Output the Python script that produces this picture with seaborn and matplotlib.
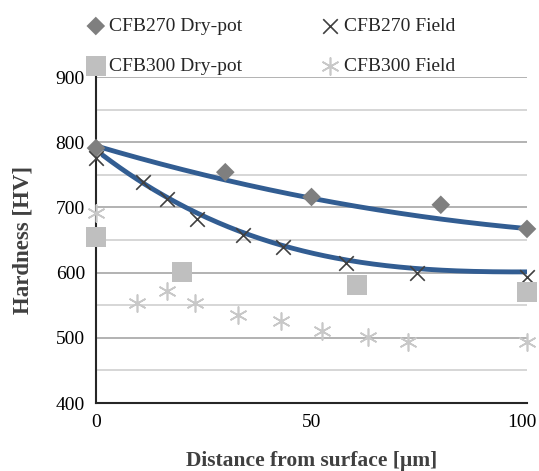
import numpy as np
import matplotlib
matplotlib.use("Agg")
import matplotlib.pyplot as plt
import matplotlib.transforms as mtransforms
import seaborn as sns
from matplotlib.ticker import MultipleLocator

# CFB270 dry-pot (diamonds)
x_270_dry = [0, 30, 50, 80, 100]
y_270_dry = [791, 754, 716, 704, 667]
# CFB270 field (x markers)
x_270_field = [0, 11, 16.5, 23.5, 34, 43.5, 58, 74.5, 100]
y_270_field = [776, 739, 713, 682, 658, 639, 615, 600, 594]
# CFB300 dry-pot (squares)
x_300_dry = [0, 20, 60.5, 100]
y_300_dry = [655, 601, 581, 570]
# CFB300 field (asterisks)
x_300_field = [0, 9.5, 16.5, 23, 33, 43, 52.5, 63, 72.5, 100]
y_300_field = [691, 553, 572, 553, 535, 526, 510, 501, 494, 494]

# trend lines
trend_dry_x = [0, 29.4, 48, 79.6, 100]
trend_dry_y = [794, 745, 714, 684, 667]
trend_field_x = [1.6, 21.8, 37.3, 47.2, 58.8, 74.3, 100]
trend_field_y = [780, 696, 655, 635, 617, 607, 601]

sns.set_style("white")
plt.rcParams['font.family'] = ['Liberation Serif', 'DejaVu Serif']

fig = plt.figure(figsize=(5.39, 4.71), dpi=100)
ax = fig.add_axes([96/539, 1-403/471, 431/539, 326/471])

ax.yaxis.set_major_locator(MultipleLocator(100))
ax.yaxis.set_minor_locator(MultipleLocator(50))
ax.grid(True, which='major', axis='y', color='#a6a6a6', lw=1.2)
ax.grid(True, which='minor', axis='y', color='#d0d0d0', lw=1.2)
ax.set_axisbelow(True)

for tx, ty in [(trend_dry_x, trend_dry_y), (trend_field_x, trend_field_y)]:
    c = np.polyfit(tx, ty, 3)
    xf = np.linspace(tx[0], tx[-1], 200)
    sns.lineplot(x=xf, y=np.polyval(c, xf), color='#325d92', lw=3.5, ax=ax, zorder=3)

sns.scatterplot(x=x_270_dry, y=y_270_dry, marker='D', s=90, color='#7f7f7f',
                edgecolor='none', ax=ax, zorder=4, clip_on=False, label='CFB270 Dry-pot')
sns.scatterplot(x=x_270_field, y=y_270_field, marker='x', s=110, color='#404040',
                linewidth=1.2, ax=ax, zorder=4, clip_on=False, label='CFB270 Field')
sns.scatterplot(x=x_300_dry, y=y_300_dry, marker='s', s=200, color='#bfbfbf',
                edgecolor='none', ax=ax, zorder=4, clip_on=False, label='CFB300 Dry-pot')
sns.scatterplot(x=x_300_field, y=y_300_field, marker=(6, 2, 0), s=150, color='#c8c8c8',
                linewidth=1.2, ax=ax, zorder=4, clip_on=False, label='CFB300 Field')

ax.set_xlim(0, 100)
ax.set_ylim(400, 900)
ax.set_xticks([0, 50, 100])
for s in ['top', 'right']:
    ax.spines[s].set_visible(False)
for s in ['left', 'bottom']:
    ax.spines[s].set_color('#262626')
    ax.spines[s].set_linewidth(1.5)
ax.tick_params(axis='both', labelsize=14, length=0, pad=8, colors='#000000')
fig.canvas.draw()
last = ax.get_xticklabels()[-1]
last.set_transform(last.get_transform() + mtransforms.ScaledTranslation(-5/100, 0, fig.dpi_scale_trans))

ax.set_xlabel('Distance from surface [µm]', fontsize=15.5, fontweight='bold', color='#404040', labelpad=14)
ax.set_ylabel('Hardness [HV]', fontsize=16.5, fontweight='bold', color='#404040', labelpad=16)

h, l = ax.get_legend_handles_labels()
ax.get_legend().remove()
order = [0, 2, 1, 3]
fig.legend([h[i] for i in order], [l[i] for i in order], ncol=2, loc='upper left',
           bbox_to_anchor=(0.12, 1.0), frameon=False, fontsize=14, handletextpad=0.0,
           columnspacing=3.8, labelspacing=1.15, handlelength=1.4)

fig.savefig('out.png', dpi=100)
